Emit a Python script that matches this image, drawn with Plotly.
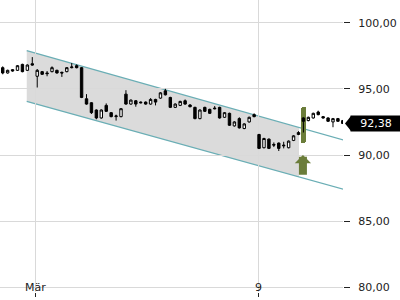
import numpy as np
import plotly.graph_objects as go

# ---- data ----
opens = [96.6, 96.2, 96.45, 96.4, 96.85, 96.4, 96.9, 95.95, 96.3, 96.2,
         96.3, 96.4, 96.25, 96.3, 96.6, 96.75, 96.6, 94.25, 93.95, 93.4,
         92.8, 93.75, 93.2, 92.9, 92.9, 94.6, 93.85, 94.1, 94.0, 94.0,
         93.85, 94.2, 94.3, 94.85, 94.35, 93.6, 93.75, 94.1, 93.78, 93.6,
         92.75, 93.6, 93.45, 93.55, 93.6, 92.85, 93.15, 92.2, 92.75, 92.0,
         92.5, 93.05, 91.55, 90.55, 91.2, 90.8, 90.9, 90.75, 90.55, 91.1,
         91.55, 92.8, 92.6, 92.8, 93.25, 92.9, 92.8, 92.5, 92.75, 92.6]
highs = [96.7, 96.45, 96.5, 96.8, 96.9, 96.85, 97.4, 96.5, 96.35, 96.35,
         96.7, 96.45, 96.3, 96.65, 96.95, 96.85, 96.65, 94.6, 94.0, 93.45,
         93.45, 93.9, 93.25, 93.05, 93.55, 94.9, 94.2, 94.15, 94.05, 94.05,
         94.3, 94.25, 94.75, 95.0, 94.4, 93.9, 94.1, 94.2, 93.85, 93.65,
         93.45, 93.65, 93.5, 93.7, 93.65, 93.25, 93.2, 92.55, 92.85, 92.4,
         92.9, 93.15, 91.6, 91.3, 91.25, 90.95, 90.95, 91.0, 91.1, 91.5,
         91.8, 92.85, 92.9, 93.2, 93.35, 92.95, 92.85, 92.8, 92.8, 92.65]
lows = [96.1, 96.15, 96.3, 96.35, 96.25, 96.35, 96.75, 95.1, 96.05, 95.95,
        96.25, 96.15, 95.9, 96.25, 96.55, 96.55, 94.3, 93.8, 93.1, 92.7,
        92.75, 93.25, 92.85, 92.6, 92.85, 93.8, 93.8, 93.65, 93.9, 93.8,
        93.8, 93.75, 94.25, 94.5, 93.55, 93.55, 93.7, 93.8, 93.6, 92.7,
        92.7, 93.25, 93.1, 93.45, 92.75, 92.8, 92.2, 92.15, 92.0, 91.95,
        92.45, 92.85, 90.45, 90.5, 90.45, 90.6, 90.3, 90.5, 90.5, 91.05,
        91.5, 91.7, 92.55, 92.75, 93.0, 92.75, 92.5, 92.1, 92.5, 92.35]
closes = [96.2, 96.4, 96.35, 96.75, 96.3, 96.8, 96.8, 96.4, 96.1, 96.15,
          96.6, 96.2, 96.2, 96.6, 96.65, 96.6, 94.35, 93.85, 93.2, 92.8,
          93.4, 93.3, 92.9, 92.95, 93.5, 93.85, 94.15, 93.85, 93.95, 93.85,
          94.2, 94.0, 94.7, 94.55, 93.6, 93.85, 94.05, 93.85, 93.65, 92.75,
          93.4, 93.3, 93.15, 93.5, 92.8, 93.2, 92.25, 92.5, 92.05, 92.35,
          92.85, 92.9, 90.5, 91.25, 90.5, 90.75, 90.5, 90.7, 91.05, 91.45,
          91.7, 92.55, 92.85, 93.15, 93.05, 92.8, 92.55, 92.75, 92.55, 92.38]
idx = list(range(len(opens)))

x_tick_vals = [6.75, 51.8]
x_tick_text = ["Mär", "9"]
y_tick_vals = [80, 85, 90, 95, 100]

channel_x = [4.87, 69.4]
channel_upper = [97.89, 91.11]
channel_lower = [94.05, 87.38]
channel_fill_end = 60.1

signal_index = 61
signal_bar = [90.9, 93.6]      # base, top of highlight bar
arrow_span = [88.4, 90.0]      # tail, tip of buy arrow
last_price = closes[-1]

OLIVE = "#6b7d3a"
TEAL = "#6aaeb5"
GRID = "#d9d9d9"
FONT = "DejaVu Sans"

fig = go.Figure()

# channel fill (shape under the traces, semi-transparent so grid shows)
u_end = float(np.interp(channel_fill_end, channel_x, channel_upper))
l_end = float(np.interp(channel_fill_end, channel_x, channel_lower))
poly = [(channel_x[0], channel_upper[0]), (channel_fill_end, u_end),
        (channel_fill_end, l_end), (channel_x[0], channel_lower[0])]
path = "M " + " L ".join(f"{px},{py}" for px, py in poly) + " Z"
fig.add_shape(type="path", path=path, xref="x", yref="y", layer="below",
              fillcolor="rgba(190,190,190,0.55)", line=dict(width=0))
# channel lines
for ys in (channel_upper, channel_lower):
    fig.add_shape(type="line", x0=channel_x[0], y0=ys[0], x1=channel_x[1], y1=ys[1],
                  xref="x", yref="y", layer="below",
                  line=dict(color=TEAL, width=1.2))

# signal highlight bar
fig.add_trace(go.Bar(x=[signal_index], y=[signal_bar[1] - signal_bar[0]],
                     base=[signal_bar[0]], width=1.1,
                     marker=dict(color=OLIVE, cornerradius=3, line=dict(width=0)),
                     hoverinfo="skip", showlegend=False))

# candles
fig.add_trace(go.Candlestick(
    x=idx, open=opens, high=highs, low=lows, close=closes,
    increasing=dict(line=dict(color="black", width=1), fillcolor="white"),
    decreasing=dict(line=dict(color="black", width=1), fillcolor="black"),
    whiskerwidth=0, showlegend=False))

# buy arrow
fig.add_annotation(x=signal_index - 0.1, y=arrow_span[1], ax=signal_index - 0.1, ay=arrow_span[0],
                   xref="x", yref="y", axref="x", ayref="y", text="",
                   showarrow=True, arrowhead=1, arrowsize=0.34, arrowwidth=8,
                   arrowcolor=OLIVE, standoff=0, startstandoff=0)

# x tick labels (drawn just above the tick marks, on the bottom gridline)
for tv, tt in zip(x_tick_vals, x_tick_text):
    fig.add_annotation(x=tv, y=y_tick_vals[0], xref="x", yref="y", text=tt,
                       showarrow=False, xanchor="center", yanchor="middle",
                       font=dict(size=11, family=FONT, color="#222"))

# last price label
fig.add_annotation(x=1.0204, y=last_price, xref="paper", yref="y",
                   text=f"{last_price:.2f}".replace(".", ","),
                   showarrow=False, xanchor="left", yanchor="middle",
                   bgcolor="black", width=50, height=15, borderpad=0, align="center",
                   font=dict(color="white", size=11, family=FONT))
fig.add_shape(type="path", xref="paper", yref="y",
              xsizemode="pixel", ysizemode="pixel", xanchor=1, yanchor=last_price,
              path="M 2,0 L 8,-7.5 L 8,7.5 Z",
              fillcolor="black", line=dict(width=0))

fig.update_layout(
    width=400, height=300,
    margin=dict(l=0, r=57, t=0, b=8),
    paper_bgcolor="white", plot_bgcolor="white",
    separators=",.",
    font=dict(family=FONT, size=11, color="#222"),
    xaxis=dict(range=[-0.55, 69.03], rangeslider=dict(visible=False),
               tickmode="array", tickvals=x_tick_vals, showticklabels=False,
               showgrid=True, gridcolor=GRID, gridwidth=1, zeroline=False,
               ticks="outside", ticklen=4, tickcolor="#222",
               showline=False, fixedrange=True),
    yaxis=dict(range=[79.645, 101.716], side="right",
               tickmode="array", tickvals=y_tick_vals, tickformat=".2f",
               showgrid=True, gridcolor=GRID, gridwidth=1, zeroline=False,
               ticks="outside", ticklen=6, tickcolor="#222",
               ticklabelstandoff=6, showline=False),
    bargap=0,
)

fig.write_html("out.html")
